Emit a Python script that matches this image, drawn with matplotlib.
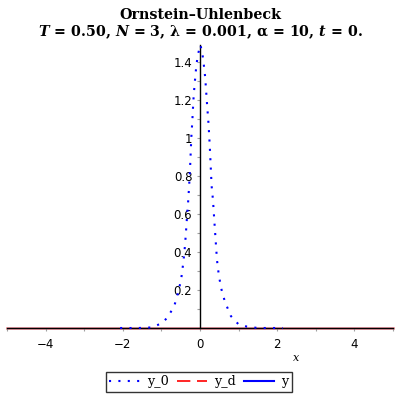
import matplotlib.pyplot as plt
from matplotlib.ticker import FixedLocator, FixedFormatter

# values
x0 = [-2.07, -1.6, -1.25, -1.16, -1.0, -0.86, -0.672, -0.577, -0.49, -0.43,
      -0.388, -0.362, -0.336, -0.31, -0.284, -0.258, -0.24, -0.224, -0.2,
      -0.18, -0.163, -0.137, -0.11, -0.085, -0.06, -0.017, 0.01, 0.017,
      0.06, 0.085, 0.11, 0.137, 0.163, 0.189, 0.214, 0.24, 0.258, 0.276,
      0.30, 0.336, 0.37, 0.405, 0.44, 0.49, 0.56, 0.646, 0.80, 0.99, 1.22,
      1.5, 2.15]
y0 = [0.0, 0.0, 0.003, 0.01, 0.025, 0.051, 0.112, 0.179, 0.253, 0.349,
      0.435, 0.51, 0.586, 0.656, 0.74, 0.84, 0.928, 1.007, 1.086,
      1.165, 1.226, 1.288, 1.35, 1.393, 1.437, 1.467, 1.49, 1.484,
      1.449, 1.407, 1.367, 1.314, 1.235, 1.16, 1.095, 1.007, 0.937, 0.858,
      0.75, 0.674, 0.568, 0.463, 0.358, 0.274, 0.2, 0.138, 0.063, 0.021, 0.007,
      0.0, 0.0]

xd = [-5, 5]
yd = [0, 0]
xs = [-5, 5]
ys = [0, 0]

xticks = [-4, -2, 0, 2, 4]
yticks = [0.2, 0.4, 0.6, 0.8, 1.0, 1.2, 1.4]
ytick_labels = ["0.2", "0.4", "0.6", "0.8", "1", "1.2", "1.4"]

plt.rcParams["mathtext.fontset"] = "custom"
plt.rcParams["mathtext.it"] = "DejaVu Serif:italic:bold"
plt.rcParams["mathtext.rm"] = "DejaVu Serif:bold"

fig = plt.figure(figsize=(4, 4), dpi=100)
ax = fig.add_axes([0.0175, 0.18, 0.965, 0.7075])

ax.plot(xs, ys, color="blue", lw=0.8, zorder=1, clip_on=False)
ax.plot(xd, yd, color="red", lw=2, alpha=0.35, zorder=1, clip_on=False)
ax.plot(x0, y0, color="blue", lw=1.5, linestyle=(0, (1, 3.5)), zorder=4,
        clip_on=False)

# legend handles
h0, = ax.plot([], [], color="blue", lw=1.5, linestyle=(0, (1, 3.5)))
h1, = ax.plot([], [], color="red", lw=1.2, linestyle=(0, (8, 4)))
h2, = ax.plot([], [], color="blue", lw=1.5)

ax.set_xlim(-5, 5)
ax.set_ylim(0, 1.49)

for s in ["top", "right"]:
    ax.spines[s].set_visible(False)
ax.spines["left"].set_position(("data", 0))
ax.spines["bottom"].set_position(("data", 0))
ax.spines["left"].set_linewidth(1)
ax.spines["bottom"].set_linewidth(1)
ax.spines["left"].set_zorder(3)
ax.spines["bottom"].set_zorder(3)

ax.xaxis.set_major_locator(FixedLocator(xticks))
ax.xaxis.set_major_formatter(FixedFormatter(["\u22124", "\u22122", "0", "2", "4"]))
ax.xaxis.set_minor_locator(FixedLocator([-5, -3, -1, 1, 3, 5]))
ax.yaxis.set_major_locator(FixedLocator(yticks))
ax.yaxis.set_major_formatter(FixedFormatter(ytick_labels))
ax.yaxis.set_minor_locator(FixedLocator([0.1, 0.3, 0.5, 0.7, 0.9, 1.1, 1.3]))

ax.tick_params(which="both", direction="out", length=2.5, width=0.8,
               color="#a0a0a0", labelsize=8.5, labelcolor="black")
ax.tick_params(axis="x", pad=5)
ax.tick_params(axis="y", pad=3)

fig.text(0.74, 0.105, "x", fontsize=8, style="italic", family="DejaVu Serif",
         ha="center", va="center")

fig.text(0.5, 1 - 15 / 400, "Ornstein\u2013Uhlenbeck", fontsize=10.3,
         fontweight="bold", family="DejaVu Serif", ha="center", va="center")
fig.text(0.5, 1 - 32 / 400,
         "$T$ = 0.50, $N$ = 3, \u03bb = 0.001, \u03b1 = 10, $t$ = 0.",
         fontsize=10.3, fontweight="bold", family="DejaVu Serif",
         ha="center", va="center")

leg = fig.legend([h0, h1, h2], ["y_0", "y_d", "y"], loc="center",
                 bbox_to_anchor=(0.4975, 1 - 382 / 400), ncol=3,
                 frameon=True, fancybox=False, handlelength=2.4,
                 handletextpad=0.55, columnspacing=0.6, borderpad=0.3,
                 prop={"family": "DejaVu Serif", "size": 9.2})
leg.get_frame().set_edgecolor("black")
leg.get_frame().set_linewidth(1)

fig.savefig("out.png", dpi=100)
